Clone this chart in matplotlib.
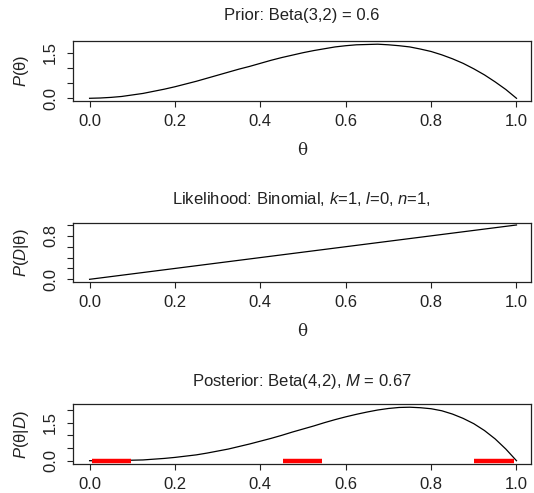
import matplotlib
matplotlib.use("Agg")
import matplotlib.pyplot as plt

plt.rcParams['font.family'] = ['Liberation Sans', 'DejaVu Sans']
plt.rcParams['mathtext.fontset'] = 'custom'
plt.rcParams['mathtext.rm'] = 'Liberation Sans'
plt.rcParams['mathtext.it'] = 'Liberation Sans:italic'

# ---- data ----
theta = [0.000, 0.025, 0.050, 0.075, 0.100, 0.125, 0.150, 0.175, 0.200, 0.225,
         0.250, 0.275, 0.300, 0.325, 0.350, 0.375, 0.400, 0.425, 0.450, 0.475,
         0.500, 0.525, 0.550, 0.575, 0.600, 0.625, 0.650, 0.675, 0.700, 0.725,
         0.750, 0.775, 0.800, 0.825, 0.850, 0.875, 0.900, 0.925, 0.950, 0.975,
         1.000]
prior = [0.00, 0.01, 0.03, 0.06, 0.11, 0.16, 0.23, 0.30, 0.38, 0.47,
         0.56, 0.66, 0.76, 0.86, 0.96, 1.05, 1.15, 1.25, 1.34, 1.42,
         1.50, 1.57, 1.63, 1.69, 1.73, 1.76, 1.77, 1.78, 1.76, 1.73,
         1.69, 1.62, 1.54, 1.43, 1.30, 1.15, 0.97, 0.77, 0.54, 0.29,
         0.00]
like_theta = [0.00, 0.25, 0.50, 0.75, 1.00]
likelihood = [0.00, 0.25, 0.50, 0.75, 1.00]
posterior = [0.00, 0.00, 0.00, 0.01, 0.02, 0.03, 0.06, 0.09, 0.13, 0.18,
             0.23, 0.30, 0.38, 0.46, 0.56, 0.66, 0.77, 0.88, 1.00, 1.13,
             1.25, 1.37, 1.50, 1.62, 1.73, 1.83, 1.92, 2.00, 2.06, 2.10,
             2.11, 2.09, 2.05, 1.97, 1.84, 1.67, 1.46, 1.19, 0.86, 0.46,
             0.00]
red_start = [0.005, 0.453, 0.901]
red_end = [0.097, 0.545, 0.994]

x_ticks = [0.0, 0.2, 0.4, 0.6, 0.8, 1.0]
x_ticklabels = ["0.0", "0.2", "0.4", "0.6", "0.8", "1.0"]
prior_yticks = [0.0, 0.5, 1.0, 1.5]
prior_ylabels = ["0.0", "", "", "1.5"]
like_yticks = [0.0, 0.2, 0.4, 0.6, 0.8, 1.0]
like_ylabels = ["0.0", "", "", "", "0.8", ""]
post_yticks = [0.0, 0.5, 1.0, 1.5, 2.0]
post_ylabels = ["0.0", "", "", "1.5", ""]

titles = ["Prior: Beta(3,2) = 0.6",
          "Likelihood: Binomial, $k$=1, $l$=0, $n$=1,",
          "Posterior: Beta(4,2), $M$ = 0.67"]
ylabels = ["$P$(θ)", "$P$($D$|θ)", "$P$(θ|$D$)"]

# ---- figure ----
W, H = 534, 493
fig = plt.figure(figsize=(W / 100, H / 100), dpi=100)

left = 72.5 / W
width = (531 - 72.5) / W
boxes = [(40.7, 100.7), (223.3, 281.7), (404.3, 464.3)]
ylims = [(-0.079, 1.895), (-0.044, 1.031), (-0.142, 2.225)]
title_pads = [15, 14, 13.5]

axs = []
for (top, bot) in boxes:
    ax = fig.add_axes([left, 1 - bot / H, width, (bot - top) / H])
    axs.append(ax)

def style(ax, yticks, ylabs, ylim, title, ylab, tpad, xlabel=True):
    ax.set_xlim(-0.04, 1.034)
    ax.set_ylim(*ylim)
    ax.set_xticks(x_ticks)
    ax.set_xticklabels(x_ticklabels)
    ax.set_yticks(yticks)
    ax.set_yticklabels(ylabs)
    ax.tick_params(direction='out', length=4.5, width=0.8, labelsize=12,
                   colors='#222222')
    ax.tick_params(axis='x', pad=5)
    ax.tick_params(axis='y', labelrotation=90, pad=6)
    for lab in ax.get_yticklabels():
        lab.set_va('center')
    for s in ax.spines.values():
        s.set_linewidth(0.9)
        s.set_color('#222222')
    ax.set_title(title, fontsize=12, pad=tpad, color='#222222')
    ax.set_ylabel(ylab, fontsize=12, labelpad=8.5, color='#222222')
    if xlabel:
        ax.set_xlabel("θ", fontsize=12, family=['DejaVu Serif'],
                      labelpad=9.5, color='#222222')

style(axs[0], prior_yticks, prior_ylabels, ylims[0], titles[0], ylabels[0], title_pads[0])
style(axs[1], like_yticks, like_ylabels, ylims[1], titles[1], ylabels[1], title_pads[1])
style(axs[2], post_yticks, post_ylabels, ylims[2], titles[2], ylabels[2], title_pads[2], xlabel=False)

axs[0].plot(theta, prior, color='black', lw=0.9)
axs[1].plot(like_theta, likelihood, color='black', lw=0.9)
axs[2].plot(theta, posterior, color='black', lw=0.9)
for a, b in zip(red_start, red_end):
    axs[2].plot([a, b], [0, 0], color='#ff0000', lw=3.2, solid_capstyle='butt',
                zorder=3)

fig.savefig("out.png", dpi=100)
